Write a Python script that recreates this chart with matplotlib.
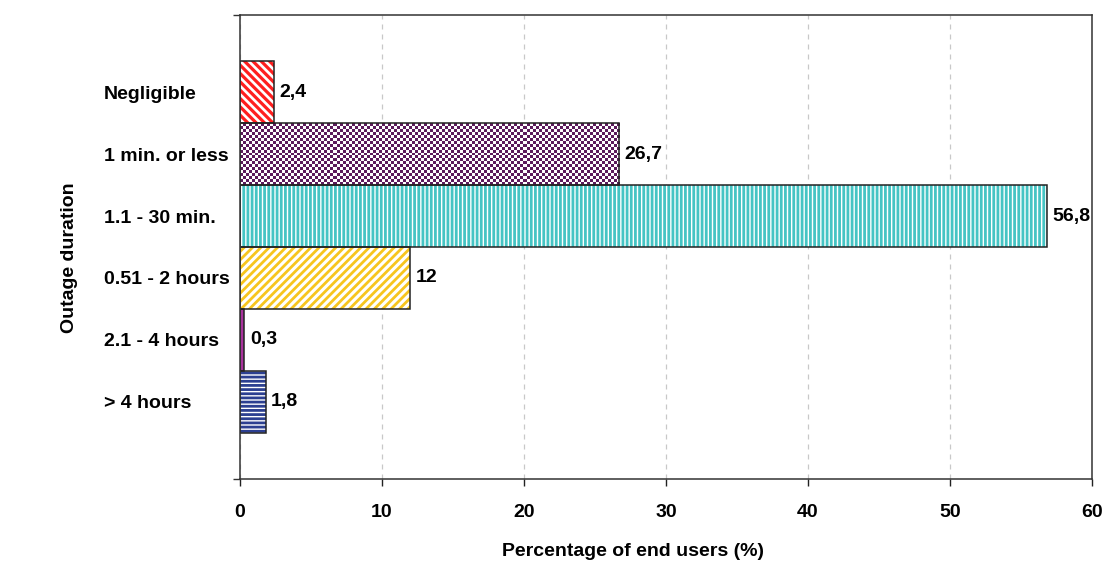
import numpy as np
import matplotlib
matplotlib.use("Agg")
import matplotlib.pyplot as plt
from matplotlib.colors import ListedColormap

plt.rcParams['font.family'] = ['Liberation Sans', 'DejaVu Sans']
plt.rcParams['font.weight'] = 'bold'

# data (top to bottom)
categories = ["Negligible", "1 min. or less", "1.1 - 30 min.", "0.51 - 2 hours",
              "2.1 - 4 hours", "> 4 hours"]
values = [2.4, 26.7, 56.8, 12, 0.3, 1.8]
value_labels = ["2,4", "26,7", "56,8", "12", "0,3", "1,8"]

# look of each bar: colour, hatch, hatch line width
colors = ["#ff1f1f", "#5c1a5c", "#45c4c4", "#f7c51e", "#a8329c", "#2c3f91"]
hatches = ["\\\\\\\\", "checker", "||||", "////", None, "----"]
hatch_lw = [2.3, 0, 2.0, 2.0, 0, 2.0]

fs = 14

fig = plt.figure(figsize=(11.03, 5.64), dpi=100)
ax = fig.add_axes([240 / 1103, 85 / 564, 852 / 1103, 464 / 564])

ypos = np.arange(len(categories))[::-1]
ax.set_xlim(0, 60)
ax.set_ylim(-1.25, 6.25)

# dashed grid behind
ax.set_axisbelow(True)
ax.grid(axis='x', color='#c8c8c8', linestyle=(0, (4, 4)), linewidth=0.9)
ax.grid(axis='y', visible=False)

p0 = ax.transData.transform((0, 0))
px_x = ax.transData.transform((1, 0))[0] - p0[0]
px_y = ax.transData.transform((0, 1))[1] - p0[1]

for y, v, c, h, lw, lab in zip(ypos, values, colors, hatches, hatch_lw, value_labels):
    if h is None:
        ax.barh(y, v, height=1, color=c, edgecolor='none', zorder=2)
    elif h == "checker":
        bar = ax.barh(y, v, height=1, color='white', edgecolor='none', zorder=2)[0]
        nx = max(1, int(round(v * px_x / 3)))
        ny = max(1, int(round(px_y / 3)))
        checker = np.add.outer(np.arange(ny), np.arange(nx)) % 2
        im = ax.imshow(checker, extent=(0, v, y - 0.5, y + 0.5), aspect='auto',
                       cmap=ListedColormap(['white', c]), interpolation='nearest',
                       zorder=2.5)
        im.set_clip_path(bar)
    else:
        with plt.rc_context({'hatch.linewidth': lw}):
            ax.barh(y, v, height=1, color='white', edgecolor=c, linewidth=0,
                    hatch=h, zorder=2)
    # outline
    ax.barh(y, v, height=1, fill=False, edgecolor='#222222', linewidth=1.1, zorder=3)
    ax.annotate(lab, (v, y), xytext=(4, 0), textcoords='offset points',
                va='center', ha='left', fontsize=fs, fontweight='bold', color='black')

ax.set_xlim(0, 60)
ax.set_ylim(-1.25, 6.25)

ax.set_xticks([0, 10, 20, 30, 40, 50, 60])
ax.tick_params(axis='x', direction='out', length=5, width=1, color='#222222',
               pad=13, labelsize=fs)
ax.set_yticks(ypos)
ax.set_yticklabels(categories, fontsize=fs, fontweight='bold', ha='left')
ax.tick_params(axis='y', which='major', length=0, pad=98)
ax.set_yticks([-1.25, 6.25], minor=True)
ax.tick_params(axis='y', which='minor', length=5, width=1, color='#333333')

for s in ax.spines.values():
    s.set_color('#333333')
    s.set_linewidth(1.1)
    s.set_zorder(4)

ax.set_xlabel("Percentage of end users (%)", fontsize=fs, fontweight='bold')
ax.xaxis.set_label_coords(0.461, -0.138)
ax.set_ylabel("Outage duration", fontsize=fs, fontweight='bold')
ax.yaxis.set_label_coords(-0.19, 0.478)

fig.savefig("out.png", dpi=100, facecolor='white')
